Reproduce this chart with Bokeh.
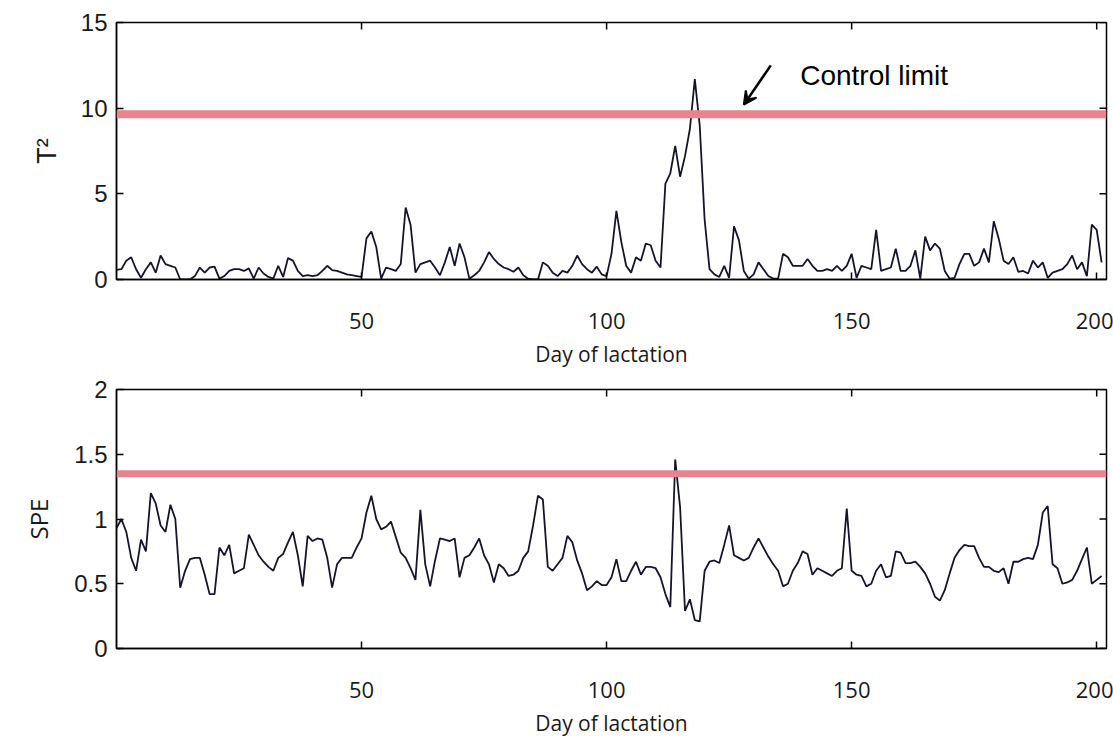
from bokeh.plotting import figure
from bokeh.layouts import column
from bokeh.models import Range1d, FixedTicker, Span, Label, Arrow, VeeHead
from bokeh.embed import file_html
from bokeh.resources import INLINE

# ---------------- data ----------------
x_ticks = [50, 100, 150, 200]
t2_ticks = [0, 5, 10, 15]
spe_ticks = [0, 0.5, 1, 1.5, 2]
spe_tick_labels = {0: "0", 0.5: "0.5", 1: "1", 1.5: "1.5", 2: "2"}

t2_limit = 9.65
spe_limit = 1.35

t2_values = [
    0.56, 0.6, 1.1, 1.3, 0.6, 0.1, 0.6, 1.0, 0.4, 1.4, 0.9, 0.8, 0.7, 0, 0, 0, 0.2, 0.7, 0.4, 0.7,
    0.75, 0.05, 0.2, 0.5, 0.6, 0.6, 0.5, 0.65, 0.05, 0.7, 0.35, 0.15, 0.05, 0.8, 0.15, 1.25, 1.1, 0.5, 0.2, 0.25,
    0.2, 0.25, 0.5, 0.8, 0.55, 0.5, 0.4, 0.3, 0.25, 0.2, 0.15,
    2.4, 2.8, 1.9, 0.05, 0.7, 0.6, 0.5, 0.9, 4.2, 3.2, 0.4, 0.9, 1.0, 1.1, 0.7, 0.25, 1.0, 1.9, 0.8, 2.1,
    1.3, 0.05, 0.25, 0.5, 1.0, 1.6, 1.2, 0.9, 0.7, 0.6, 0.45, 0.7, 0.25, 0.05, 0, 0, 1.0, 0.8, 0.4, 0.2,
    0.5, 0.4, 0.8, 1.4, 0.9, 0.6, 0.4, 0.75, 0.3, 0.2,
    1.5, 4.0, 2.2, 0.8, 0.4, 1.3, 1.1, 2.1, 2.0, 1.1, 0.7, 5.6, 6.2, 7.8, 6.0, 7.2, 8.8, 11.7, 9.0, 3.5,
    0.6, 0.3, 0.15, 0.8, 0.1, 3.1, 2.3, 0.5, 0.05, 0.3, 1.0, 0.6, 0.2, 0.05, 0.05, 1.5, 1.3, 0.8, 0.8, 0.8,
    1.2, 0.8, 0.5, 0.5, 0.6, 0.5, 0.8, 0.5, 0.8, 1.5,
    0.1, 0.8, 0.7, 0.6, 2.9, 0.5, 0.6, 0.7, 1.8, 0.5, 0.5, 0.8, 1.7, 0.05, 2.5, 1.7, 2.1, 1.8, 0.5, 0.05,
    0.1, 0.9, 1.5, 1.5, 0.8, 1.0, 1.8, 1.0, 3.4, 2.4, 1.1, 0.9, 1.3, 0.45, 0.5, 0.35, 1.1, 0.7, 1.0, 0.1,
    0.4, 0.5, 0.6, 0.9, 1.4, 0.6, 1.0, 0.2, 3.2, 2.9, 1.0,
]

spe_values = [
    0.93, 1.0, 0.9, 0.7, 0.6, 0.84, 0.75, 1.2, 1.12, 0.95, 0.9, 1.11, 1.0, 0.47, 0.6, 0.69, 0.7, 0.7, 0.57, 0.42,
    0.42, 0.78, 0.72, 0.8, 0.58, 0.6, 0.62, 0.88, 0.8, 0.72, 0.67, 0.63, 0.6, 0.7, 0.73, 0.82, 0.9, 0.72, 0.48, 0.87,
    0.83, 0.85, 0.84, 0.7, 0.47, 0.65, 0.7, 0.7, 0.7, 0.78, 0.85,
    1.05, 1.18, 1.0, 0.92, 0.94, 0.98, 0.86, 0.74, 0.7, 0.62, 0.53, 1.07, 0.65, 0.48, 0.68, 0.85, 0.84, 0.83, 0.85, 0.55,
    0.7, 0.72, 0.78, 0.85, 0.72, 0.65, 0.51, 0.65, 0.62, 0.56, 0.57, 0.6, 0.7, 0.75, 0.95, 1.18, 1.15, 0.63, 0.6, 0.65,
    0.7, 0.87, 0.82, 0.68, 0.58, 0.45, 0.48, 0.52, 0.49, 0.49,
    0.55, 0.69, 0.52, 0.52, 0.6, 0.67, 0.57, 0.63, 0.63, 0.62, 0.55, 0.42, 0.32, 1.46, 1.09, 0.29, 0.38, 0.22, 0.21, 0.6,
    0.67, 0.68, 0.66, 0.8, 0.95, 0.72, 0.7, 0.68, 0.7, 0.78, 0.85, 0.78, 0.71, 0.65, 0.6, 0.48, 0.5, 0.6, 0.66, 0.75,
    0.73, 0.57, 0.62, 0.6, 0.58, 0.56, 0.6, 0.62, 1.08, 0.6,
    0.57, 0.56, 0.48, 0.5, 0.6, 0.65, 0.55, 0.56, 0.75, 0.74, 0.66, 0.66, 0.67, 0.63, 0.58, 0.5, 0.4, 0.37, 0.45, 0.58,
    0.7, 0.76, 0.8, 0.79, 0.79, 0.7, 0.63, 0.63, 0.6, 0.59, 0.62, 0.5, 0.67, 0.67, 0.69, 0.7, 0.69, 0.8, 1.05, 1.1,
    0.65, 0.62, 0.5, 0.51, 0.53, 0.6, 0.69, 0.78, 0.5, 0.53, 0.56,
]

days = list(range(len(t2_values)))
spe_days = list(range(len(spe_values)))

# ---------------- style ----------------
LINE_COLOR = "#15152a"
LIMIT_COLOR = "#e8848e"
X_FONT = "Open Sans"
Y_FONT = "Liberation Sans"
X_MIN, X_MAX = 0, 202
FRAME_W = 990  # px, used only to convert the 7 px tick length into data units


def style_axes(p, yticks, ylabel, ylabel_font, ylabel_size, y_max, frame_h, overrides=None):
    p.xgrid.visible = False
    p.ygrid.visible = False
    p.outline_line_color = "black"
    p.outline_line_width = 1.5
    p.outline_line_alpha = 1.0
    p.background_fill_color = "white"
    p.border_fill_color = "white"

    xa = p.xaxis[0]
    xa.ticker = FixedTicker(ticks=x_ticks)
    xa.major_tick_in = 7
    xa.major_tick_out = 0
    xa.minor_tick_in = 0
    xa.minor_tick_out = 0
    xa.axis_line_width = 1.5
    xa.major_tick_line_width = 1.5
    xa.major_label_standoff = 33
    xa.major_label_text_font = X_FONT
    xa.major_label_text_font_size = "22px"
    xa.major_label_text_color = "#1a1a1a"
    xa.axis_label = "Day of lactation"
    xa.axis_label_text_font = X_FONT
    xa.axis_label_text_font_size = "21px"
    xa.axis_label_text_font_style = "normal"
    xa.axis_label_text_color = "#1a1a1a"
    xa.axis_label_standoff = 8

    ya = p.yaxis[0]
    ya.ticker = FixedTicker(ticks=yticks)
    if overrides:
        ya.major_label_overrides = overrides
    ya.major_tick_in = 7
    ya.major_tick_out = 0
    ya.minor_tick_in = 0
    ya.minor_tick_out = 0
    ya.axis_line_width = 1.5
    ya.major_tick_line_width = 1.5
    ya.major_label_standoff = 9
    ya.major_label_text_font = Y_FONT
    ya.major_label_text_font_size = "24px"
    ya.major_label_text_color = "#1a1a1a"
    ya.axis_label = ylabel
    ya.axis_label_text_font = ylabel_font
    ya.axis_label_text_font_size = ylabel_size
    ya.axis_label_text_font_style = "normal"
    ya.axis_label_text_color = "#1a1a1a"
    ya.axis_label_standoff = 16

    # inward ticks on the top and right sides of the box (MATLAB style)
    ylen = 7 * y_max / frame_h
    xlen = 7 * (X_MAX - X_MIN) / FRAME_W
    p.segment(x0=x_ticks, y0=[y_max] * len(x_ticks), x1=x_ticks, y1=[y_max - ylen] * len(x_ticks),
              line_color="black", line_width=1.5)
    p.segment(x0=[X_MAX] * len(yticks), y0=yticks, x1=[X_MAX - xlen] * len(yticks), y1=yticks,
              line_color="black", line_width=1.5)


# ---------------- top panel: T^2 ----------------
p1 = figure(width=1113, height=370, x_range=Range1d(X_MIN, X_MAX), y_range=Range1d(0, 15),
            output_backend="svg", toolbar_location=None,
            min_border_left=116, min_border_right=7, min_border_top=22, min_border_bottom=91)
style_axes(p1, t2_ticks, "T²", Y_FONT, "27px", 15, 257)
p1.add_layout(Span(location=t2_limit, dimension="width", line_color=LIMIT_COLOR, line_width=8))
p1.line(days, t2_values, line_color=LINE_COLOR, line_width=1.8)
p1.add_layout(Label(x=139.5, y=11.9, text="Control limit", text_font=Y_FONT,
                    text_font_size="28px", text_color="black", text_baseline="alphabetic"))
p1.add_layout(Arrow(end=VeeHead(size=13, fill_color="black", line_color="black", line_width=2),
                    x_start=133.5, y_start=12.5, x_end=128, y_end=10.2,
                    line_color="black", line_width=2.5))

# ---------------- bottom panel: SPE ----------------
p2 = figure(width=1113, height=369, x_range=Range1d(X_MIN, X_MAX), y_range=Range1d(0, 2),
            output_backend="svg", toolbar_location=None,
            min_border_left=116, min_border_right=7, min_border_top=19, min_border_bottom=91)
style_axes(p2, spe_ticks, "SPE", X_FONT, "24px", 2, 259, overrides=spe_tick_labels)
p2.add_layout(Span(location=spe_limit, dimension="width", line_color=LIMIT_COLOR, line_width=7))
p2.line(spe_days, spe_values, line_color=LINE_COLOR, line_width=1.8)

layout = column(p1, p2)
open("out.html", "w").write(file_html(layout, INLINE))
